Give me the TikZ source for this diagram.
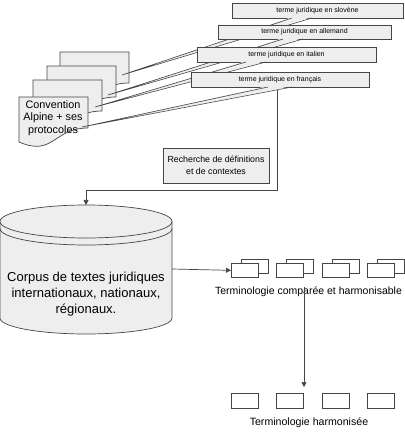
\documentclass[tikz,border=0pt]{standalone}
\usepackage{fontspec}
\setmainfont{Liberation Sans}
\usetikzlibrary{arrows.meta}
\definecolor{boxfill}{HTML}{EEEEEE}
\definecolor{ln}{HTML}{454545}
\begin{document}
\begin{tikzpicture}[x=1pt,y=-1pt,line width=0.7pt,
  term/.style={draw=ln,fill=boxfill,minimum height=15pt,inner sep=0pt,font=\fontsize{7}{8}\selectfont},
  wedgefill/.style={fill=boxfill,draw=none},
  wedgeline/.style={draw=ln,line width=0.6pt},
  smallbox/.style={draw=ln,fill=white,minimum width=27pt,minimum height=14pt,inner sep=0pt},
  arr/.style={draw=ln,-{Triangle[length=5pt,width=5pt]}},
  doc/.pic={\draw[ln,fill=boxfill] (0,0) -- (69,0) -- (69,31) .. controls (34.5,31) and (34.5,60) .. (0,45) -- cycle;}
]
\useasboundingbox (0,0) rectangle (404,435);

% documents
\pic at (60,52) {doc};
\pic at (47,66) {doc};
\pic at (33,80) {doc};
\pic at (19,97) {doc};
\node[align=center,font=\fontsize{10.8}{12.5}\selectfont,inner sep=0pt] (conv) at (53,118) {Convention\\Alpine + ses\\protocoles};

\coordinate (tipA) at (122,75);
\coordinate (tipB) at (108,95);
\coordinate (tipC) at (95,107);
\coordinate (tipD) at (82,127);

% callouts
\node[term,minimum width=171pt] (slo) at (317.5,10.5) {terme juridique en slovène};
\fill[wedgefill] (292,17) -- (312,17) -- (tipA) -- cycle;
\draw[wedgeline] (292,18) -- (tipA) -- (312,18);

\node[term,minimum width=173pt,minimum height=14pt] (all) at (304.5,32) {terme juridique en allemand};
\fill[wedgefill] (283,38) -- (303,38) -- (tipB) -- cycle;
\draw[wedgeline] (283,39) -- (tipB) -- (303,39);

\node[term,minimum width=179pt] (ita) at (286.5,54.5) {terme juridique en italien};
\fill[wedgefill] (246,61) -- (266,61) -- (tipC) -- cycle;
\draw[wedgeline] (246,62) -- (tipC) -- (266,62);

\node[term,minimum width=178pt] (fra) at (280,79.5) {terme juridique en français};
\fill[wedgefill] (268,86) -- (292,86) -- (tipD) -- cycle;
\draw[wedgeline] (268,87) -- (tipD) -- (292,87);

% recherche box
\node[draw=ln,fill=boxfill,minimum width=106pt,minimum height=35pt,inner sep=0pt,align=center,font=\fontsize{8.8}{12}\selectfont] (rech) at (216,165.5) {Recherche de définitions\\et de contextes};

% cylinder
\draw[ln,fill=boxfill] (0,221.5) -- (0,318) .. controls (0,326.8) and (38.5,334) .. (86,334) .. controls (133.5,334) and (172,326.8) .. (172,318) -- (172,221.5) -- cycle;
\draw[ln] (0,228.5) .. controls (0,237.6) and (38.5,245) .. (86,245) .. controls (133.5,245) and (172,237.6) .. (172,228.5);
\draw[ln,fill=boxfill] (86,221.5) ellipse [x radius=86, y radius=16.5];
\node[align=center,font=\fontsize{13}{16}\selectfont,inner sep=0pt] (corpus) at (86,294) {Corpus de textes juridiques\\internationaux, nationaux,\\régionaux.};
\coordinate (cyltop) at (86,205);
\coordinate (cylright) at (172,269);

% connector from français callout to cylinder
\coordinate (frout) at (277,90);
\draw[arr] (frout) -- (277,190) -- (86,190) -- (cyltop);

% stacks
\foreach \x [count=\i] in {231,276,322,367}{
  \node[smallbox,anchor=north west] (sb\i) at (\x+10,259) {};
  \node[smallbox,anchor=north west] (sf\i) at (\x,263) {};
}
\draw[arr] (cylright) -- (sf1.west);
\node[font=\fontsize{10.5}{12}\selectfont,inner sep=0pt] (tcomp) at (308.5,292) {Terminologie comparée et harmonisable};

% harmonised
\foreach \x [count=\i] in {231,276,322,367}{
  \node[smallbox,minimum height=15pt,anchor=north west] (h\i) at (\x,393) {};
}
\node[font=\fontsize{10.6}{12}\selectfont,inner sep=0pt] (tharm) at (309,423) {Terminologie harmonisée};
\coordinate (vstart) at (304,287);
\coordinate (vend) at (304,387);
\draw[arr] (vstart) -- (vend);
\end{tikzpicture}
\end{document}
